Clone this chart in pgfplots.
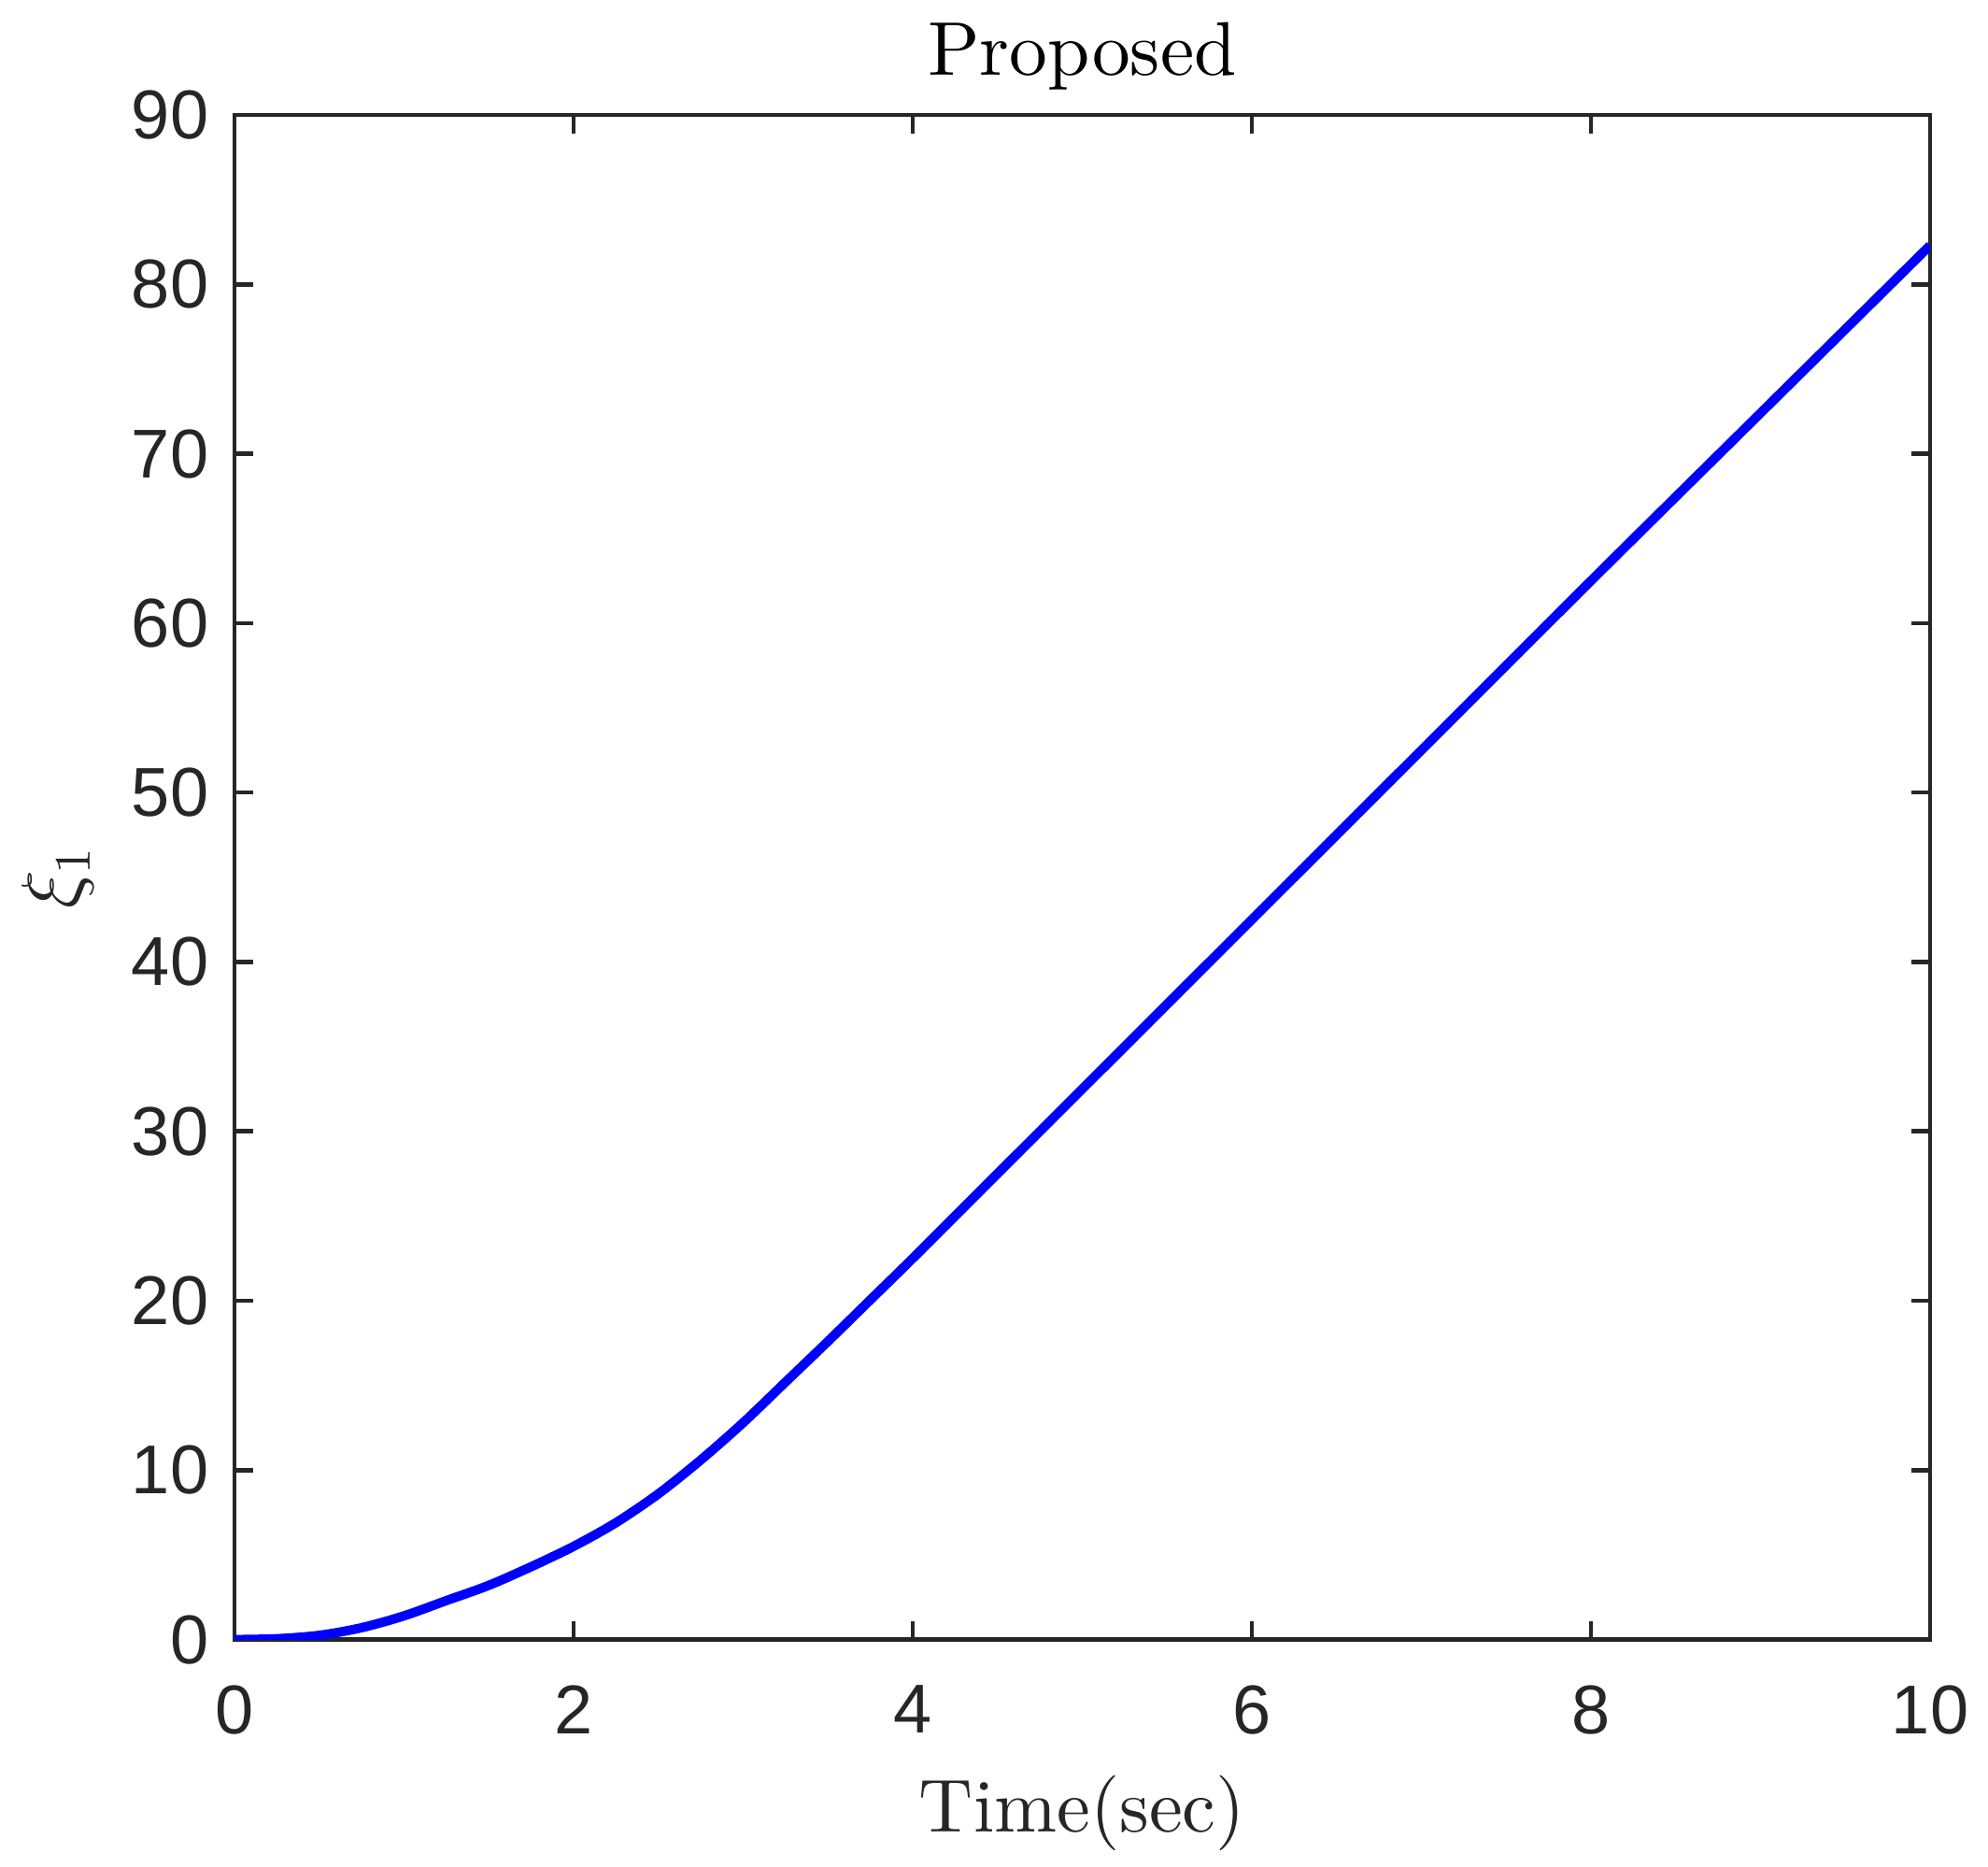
\documentclass[border=0pt]{standalone}
\usepackage{fontspec}
\usepackage{pgfplots}
\pgfplotsset{compat=1.18}
\newfontfamily\helv{Liberation Sans}
\newfontfamily\lmten{lmroman10-regular}[Extension=.otf]
\definecolor{axgray}{rgb}{0.15,0.15,0.15}

\begin{document}
\begin{tikzpicture}
\useasboundingbox (-50.2pt,-48.6pt) rectangle (375.5pt,351pt);
\begin{axis}[
    scale only axis,
    width=363.1pt, height=326.4pt,
    xmin=0, xmax=10, ymin=0, ymax=90,
    xtick={0,2,...,10}, ytick={0,10,...,90},
    tick align=inside,
    major tick length=4pt,
    axis line style={axgray, line width=0.9pt},
    every tick/.style={axgray, line width=0.9pt},
    /pgf/number format/assume math mode=true,
    ticklabel style={font=\helv\fontsize{14.8}{17}\selectfont, text=axgray},
    xticklabel style={yshift=-6.3pt},
    yticklabel style={xshift=-2pt},
    title={Proposed},
    every axis title/.style={at={(axis description cs:0.5,1)}, anchor=base,
        yshift=8.6pt, font=\lmten\fontsize{16.3}{19}\selectfont},
    xlabel={Time(sec)},
    every axis x label/.style={at={(axis description cs:0.5,0)}, anchor=base,
        yshift=-41.2pt, font=\lmten\fontsize{16.1}{19}\selectfont, text=axgray},
    ylabel={$\xi_1$},
    every axis y label/.style={at={(axis description cs:-0.1041,0.5)},
        anchor=center, rotate=90, font=\fontsize{16.1}{19}\selectfont, text=axgray},
]
\addplot[blue, line width=2pt, smooth] coordinates {
    (0,0) (0.25,0.05) (0.5,0.25) (0.75,0.7) (1,1.4) (1.25,2.3) (1.5,3.2)
    (1.75,4.3) (2,5.5) (2.25,6.9) (2.5,8.6) (2.75,10.6) (3,12.8) (3.25,15.2)
    (3.5,17.6) (3.75,20.05) (4,22.5) (4.5,27.5) (5,32.5) (6,42.5) (7,52.5)
    (8,62.5) (9,72.4) (10,82.3)
};
\end{axis}
\end{tikzpicture}
\end{document}
